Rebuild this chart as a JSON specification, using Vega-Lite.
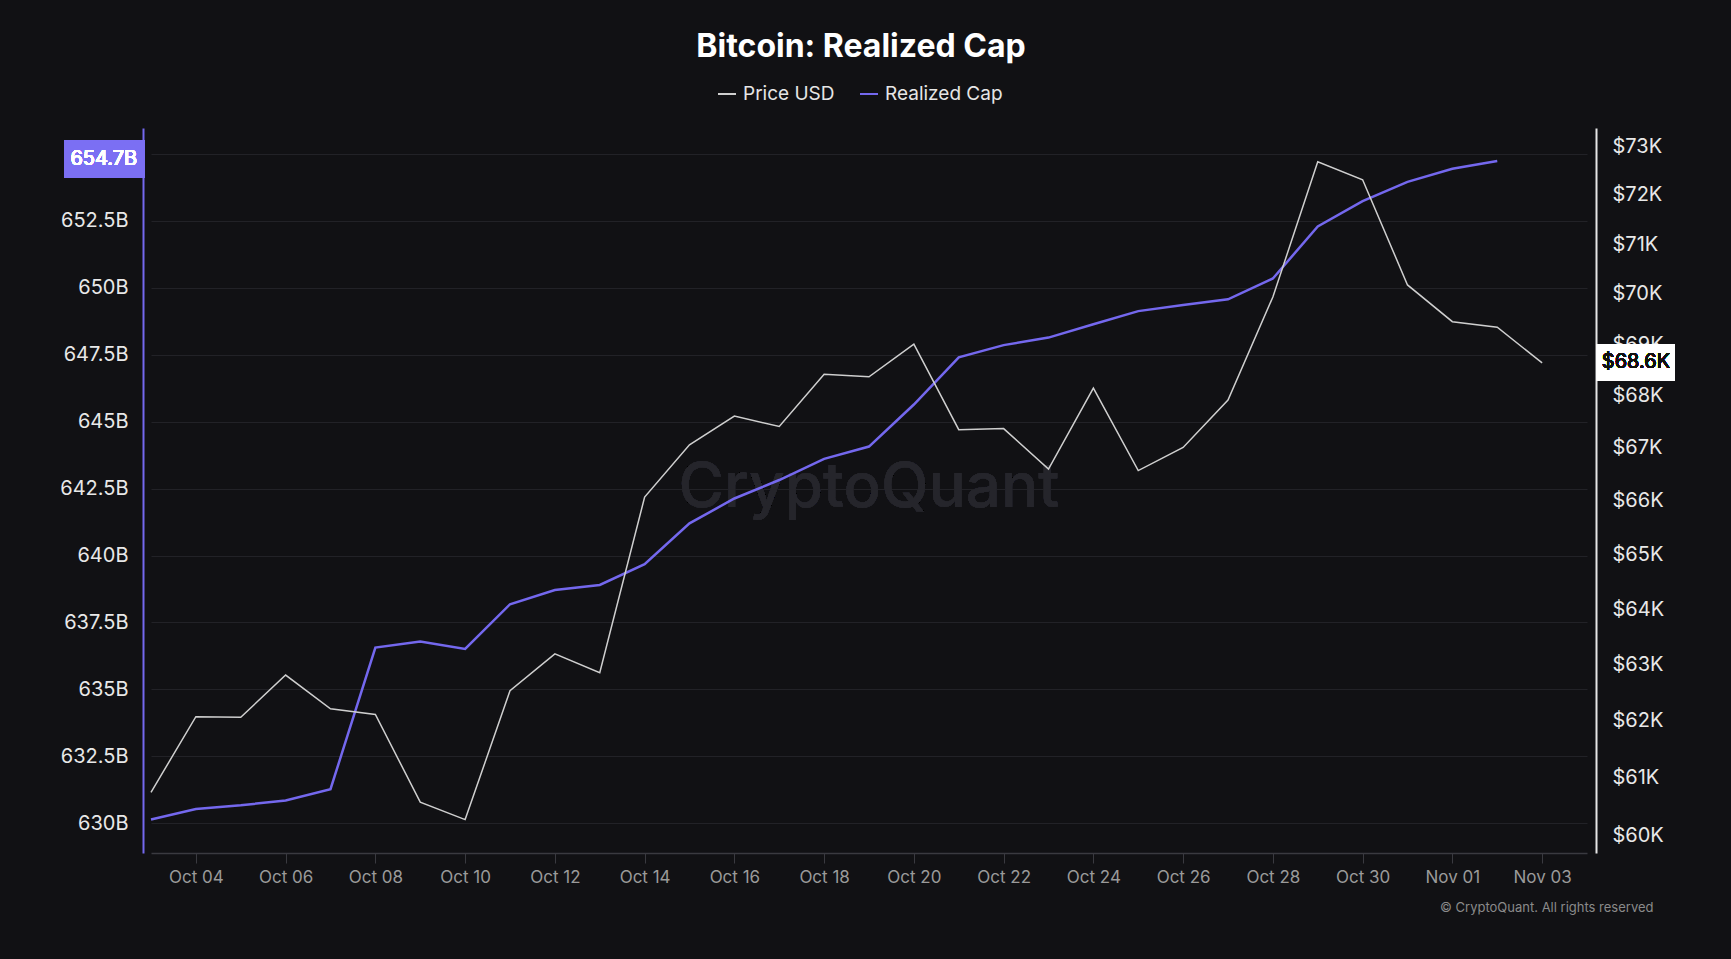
{
  "$schema": "https://vega.github.io/schema/vega-lite/v6.json",
  "autosize": {"type": "none"},
  "padding": {"left": 151, "top": 128, "right": 144, "bottom": 106},
  "width": 1436,
  "height": 725,
  "background": "#111114",
  "title": {"text": "Bitcoin: Realized Cap", "fontSize": 32, "fontWeight": "bold", "color": "#ffffff", "font": "Inter", "anchor": "middle", "dx": -8, "offset": 20},
  "data": {"values": [
    {"date": "2024-10-03", "price": 60750, "realized": 630.14},
    {"date": "2024-10-04", "price": 62070, "realized": 630.53},
    {"date": "2024-10-05", "price": 62060, "realized": 630.67},
    {"date": "2024-10-06", "price": 62810, "realized": 630.85},
    {"date": "2024-10-07", "price": 62210, "realized": 631.27},
    {"date": "2024-10-08", "price": 62110, "realized": 636.56},
    {"date": "2024-10-09", "price": 60580, "realized": 636.79},
    {"date": "2024-10-10", "price": 60280, "realized": 636.51},
    {"date": "2024-10-11", "price": 62530, "realized": 638.18},
    {"date": "2024-10-12", "price": 63190, "realized": 638.71},
    {"date": "2024-10-13", "price": 62850, "realized": 638.90},
    {"date": "2024-10-14", "price": 66070, "realized": 639.68},
    {"date": "2024-10-15", "price": 67060, "realized": 641.20},
    {"date": "2024-10-16", "price": 67610, "realized": 642.13},
    {"date": "2024-10-17", "price": 67410, "realized": 642.82},
    {"date": "2024-10-18", "price": 68420, "realized": 643.61},
    {"date": "2024-10-19", "price": 68370, "realized": 644.07},
    {"date": "2024-10-20", "price": 69010, "realized": 645.64},
    {"date": "2024-10-21", "price": 67350, "realized": 647.40},
    {"date": "2024-10-22", "price": 67370, "realized": 647.86},
    {"date": "2024-10-23", "price": 66600, "realized": 648.14},
    {"date": "2024-10-24", "price": 68150, "realized": 648.64},
    {"date": "2024-10-25", "price": 66570, "realized": 649.13},
    {"date": "2024-10-26", "price": 67010, "realized": 649.36},
    {"date": "2024-10-27", "price": 67920, "realized": 649.57},
    {"date": "2024-10-28", "price": 69940, "realized": 650.35},
    {"date": "2024-10-29", "price": 72680, "realized": 652.29},
    {"date": "2024-10-30", "price": 72310, "realized": 653.24},
    {"date": "2024-10-31", "price": 70180, "realized": 653.96},
    {"date": "2024-11-01", "price": 69450, "realized": 654.45},
    {"date": "2024-11-02", "price": 69340, "realized": 654.74},
    {"date": "2024-11-03", "price": 68640, "realized": null}
  ]},
  "layer": [
    {
      "layer": [
        {
          "mark": {"type": "text", "fontSize": 62, "font": "Inter", "fontWeight": 500, "color": "#25252b", "align": "center", "baseline": "alphabetic"},
          "encoding": {
            "x": {"datum": {"year": 2024, "month": 10, "date": 19, "utc": true}, "type": "temporal", "scale": {"type": "utc", "domain": [{"year": 2024, "month": 10, "date": 3, "utc": true}, {"year": 2024, "month": 11, "date": 4, "utc": true}]}},
            "y": {"datum": 641.8, "type": "quantitative", "scale": {"domain": [628.887, 655.97], "zero": false, "nice": false}},
            "text": {"value": "CryptoQuant"}
          }
        },
        {
          "mark": {"type": "line", "strokeWidth": 2.5, "interpolate": "linear"},
          "encoding": {
            "x": {"field": "date", "type": "temporal", "scale": {"type": "utc", "domain": [{"year": 2024, "month": 10, "date": 3, "utc": true}, {"year": 2024, "month": 11, "date": 4, "utc": true}]},
              "axis": {
                "title": "© CryptoQuant. All rights reserved", "titleColor": "#8a8a8a", "titleFontSize": 13, "titleFontWeight": "normal", "titleFont": "Inter",
                "titleX": 1502, "titleY": 54, "titleAlign": "right", "titleBaseline": "middle", "titleAnchor": "end",
                "format": "%b %d", "formatType": "time",
                "values": [
                  {"year": 2024, "month": 10, "date": 4, "utc": true},
                  {"year": 2024, "month": 10, "date": 6, "utc": true},
                  {"year": 2024, "month": 10, "date": 8, "utc": true},
                  {"year": 2024, "month": 10, "date": 10, "utc": true},
                  {"year": 2024, "month": 10, "date": 12, "utc": true},
                  {"year": 2024, "month": 10, "date": 14, "utc": true},
                  {"year": 2024, "month": 10, "date": 16, "utc": true},
                  {"year": 2024, "month": 10, "date": 18, "utc": true},
                  {"year": 2024, "month": 10, "date": 20, "utc": true},
                  {"year": 2024, "month": 10, "date": 22, "utc": true},
                  {"year": 2024, "month": 10, "date": 24, "utc": true},
                  {"year": 2024, "month": 10, "date": 26, "utc": true},
                  {"year": 2024, "month": 10, "date": 28, "utc": true},
                  {"year": 2024, "month": 10, "date": 30, "utc": true},
                  {"year": 2024, "month": 11, "date": 1, "utc": true},
                  {"year": 2024, "month": 11, "date": 3, "utc": true}
                ],
                "grid": false, "domainColor": "#3a3a40", "domainWidth": 1.5, "tickColor": "#3a3a40", "tickSize": 10, "tickWidth": 1,
                "labelColor": "#9a9a9a", "labelFontSize": 17, "labelFont": "Inter", "labelPadding": 6, "labelAngle": 0, "labelOverlap": false, "labelFlush": false
              }
            },
            "y": {"field": "realized", "type": "quantitative", "scale": {"domain": [628.887, 655.97], "zero": false, "nice": false},
              "axis": {
                "orient": "left", "title": null, "offset": 8,
                "values": [630, 632.5, 635, 637.5, 640, 642.5, 645, 647.5, 650, 652.5, 655],
                "labelExpr": "datum.value == 655 ? '' : datum.value + 'B'",
                "domainColor": "#7468ee", "domainWidth": 2, "ticks": false,
                "labelColor": "#e8e8e8", "labelFontSize": 20, "labelFont": "Inter", "labelPadding": 15,
                "grid": true, "gridColor": "#222227", "gridWidth": 1
              }
            },
            "color": {"datum": "Realized Cap", "type": "nominal", "scale": {"domain": ["Price USD", "Realized Cap"], "range": ["#cfcfcf", "#7468ee"]}, "legend": {"title": null}}
          }
        },
        {
          "mark": {"type": "rect", "color": "#7b6ff3"},
          "encoding": {
            "x": {"datum": {"year": 2024, "month": 10, "date": 1, "hours": 1, "minutes": 38, "utc": true}, "type": "temporal"},
            "x2": {"datum": {"year": 2024, "month": 10, "date": 2, "hours": 20, "minutes": 30, "utc": true}},
            "y": {"datum": 655.52, "type": "quantitative"},
            "y2": {"datum": 654.1}
          }
        },
        {
          "mark": {"type": "text", "color": "#ffffff", "fontSize": 20, "fontWeight": "normal", "font": "Inter", "align": "center", "baseline": "middle"},
          "encoding": {
            "x": {"datum": {"year": 2024, "month": 10, "date": 1, "hours": 22, "minutes": 45, "utc": true}, "type": "temporal"},
            "y": {"datum": 654.82, "type": "quantitative"},
            "text": {"value": "654.7B"}
          }
        }
      ]
    },
    {
      "layer": [
        {
          "mark": {"type": "line", "strokeWidth": 1.5, "interpolate": "linear"},
          "encoding": {
            "x": {"field": "date", "type": "temporal", "scale": {"type": "utc", "domain": [{"year": 2024, "month": 10, "date": 3, "utc": true}, {"year": 2024, "month": 11, "date": 4, "utc": true}]}},
            "y": {"field": "price", "type": "quantitative", "scale": {"type": "log", "domain": [59710, 73383], "zero": false, "nice": false},
              "axis": {
                "orient": "right", "title": null, "offset": 9,
                "values": [60000, 61000, 62000, 63000, 64000, 65000, 66000, 67000, 68000, 69000, 70000, 71000, 72000, 73000],
                "labelExpr": "'$' + round(datum.value / 1000) + 'K'",
                "domainColor": "#e6e6e6", "domainWidth": 2, "ticks": false, "grid": false,
                "labelColor": "#e8e8e8", "labelFontSize": 20, "labelFont": "Inter", "labelPadding": 16
              }
            },
            "color": {"datum": "Price USD", "type": "nominal", "legend": {"title": null}}
          }
        },
        {
          "mark": {"type": "rect", "color": "#ffffff"},
          "encoding": {
            "x": {"datum": {"year": 2024, "month": 11, "date": 4, "hours": 5, "minutes": 11, "utc": true}, "type": "temporal"},
            "x2": {"datum": {"year": 2024, "month": 11, "date": 5, "hours": 23, "minutes": 4, "utc": true}},
            "y": {"datum": 69000, "type": "quantitative"},
            "y2": {"datum": 68300}
          }
        },
        {
          "mark": {"type": "text", "color": "#111111", "fontSize": 20, "fontWeight": "normal", "font": "Inter", "align": "center", "baseline": "middle"},
          "encoding": {
            "x": {"datum": {"year": 2024, "month": 11, "date": 5, "hours": 2, "minutes": 12, "utc": true}, "type": "temporal"},
            "y": {"datum": 68650, "type": "quantitative"},
            "text": {"value": "$68.6K"}
          }
        }
      ]
    }
  ],
  "resolve": {"scale": {"y": "independent"}},
  "config": {
    "font": "Inter",
    "view": {"stroke": null},
    "legend": {
      "orient": "none", "legendX": 566, "legendY": -44, "direction": "horizontal",
      "symbolType": "stroke", "symbolSize": 324, "symbolStrokeWidth": 2,
      "labelFontSize": 19, "labelColor": "#e6e6e6", "labelFont": "Inter", "labelOffset": 6, "columnPadding": 21
    }
  }
}
